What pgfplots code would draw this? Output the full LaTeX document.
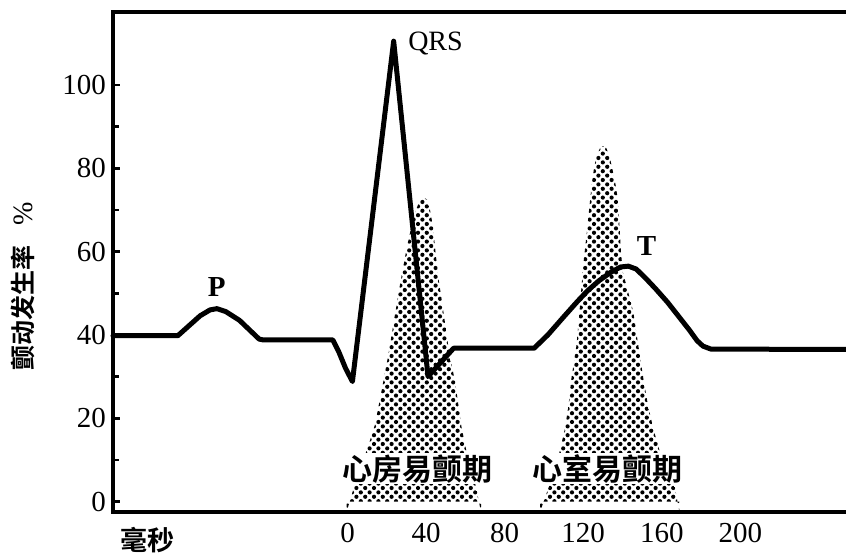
\documentclass[border=0pt]{standalone}
\usepackage{fontspec}
\setmainfont{Liberation Serif}
\newfontfamily\cjkb{Noto Sans CJK SC Bold}
\usepackage{pgfplots}
\pgfplotsset{compat=1.18}
\usetikzlibrary{patterns.meta}
\pgfplotstableread{
x y
-0.5 -2.5
3 3
7 9
10 12.5
14 18.5
17.5 27
20.7 35
23.5 43
26.7 52
30 60.5
32.5 66
34.5 69.5
36.5 72
38.6 73
40.5 72.5
42 70
43.5 66
45 59
46.5 53
49 45
52 35
54.7 29
58 18
61 11
64.5 5.5
68 -2.5
}\atrial
\pgfplotstableread{
x y
98 -2.5
101 1.5
104 5.5
107.5 11
110.7 17.5
112.5 23
114 29.6
116.6 37.6
118 45
119.2 52
120.3 58
121.7 64
123 70
124.3 76
125.5 80
127 83.3
128.8 85
130.2 85.3
131.8 84.8
133.3 83
134.8 80
136.5 76
137.8 72
138.5 66
139.2 60
140.2 55
142.5 51
145.5 45.5
148 37.6
150.6 29.6
153 23
155.7 17.5
159 12
162.5 8.5
166 5
169 -2.5
}\ventricular
\begin{document}
\begin{tikzpicture}
\begin{axis}[
  scale only axis, width=366.5pt, height=250pt,
  xmin=-119.4, xmax=253.8, ymin=-2.5, ymax=117.5,
  axis x line=bottom, axis y line=left,
  axis line style={-, line width=2pt, line cap=rect},
  xtick={0,40,80,120,160,200},
  ytick={0,20,40,60,80,100},
  minor ytick={10,30,50,70,90},
  tick align=inside,
  major tick length=3.5pt, minor tick length=3pt,
  x tick style={draw=none},
  y tick style={line width=1.4pt, black},
  tick label style={font=\fontsize{14.5}{17}\selectfont},
  /pgf/number format/assume math mode=true,
  xticklabel style={yshift=-2pt},
  clip=false,
]
\coordinate (bl) at (rel axis cs:0,0);
\coordinate (tr) at (rel axis cs:1,1);
\draw[line width=2pt, line cap=rect] (rel axis cs:0,1) -- (rel axis cs:1,1);

% atrial vulnerable period
\addplot[draw=none, pattern={Dots[radius=1.05pt,distance=4.4pt]}] table {\atrial} \closedcycle;
\addplot[draw=none, pattern={Dots[radius=1.05pt,distance=4.4pt,xshift=2.2pt,yshift=2.2pt]}] table {\atrial} \closedcycle;
% ventricular vulnerable period
\addplot[draw=none, pattern={Dots[radius=1.05pt,distance=4.4pt]}] table {\ventricular} \closedcycle;
\addplot[draw=none, pattern={Dots[radius=1.05pt,distance=4.4pt,xshift=2.2pt,yshift=2.2pt]}] table {\ventricular} \closedcycle;

% ECG curve
\addplot[black, line width=2.5pt, line join=round, line cap=round, mark=none] coordinates {
(-119.4,39.8) (-86.4,39.8) (-80,42.5) (-75,44.6) (-70,46) (-66.5,46.3) (-62,45.6)
(-55,43.5) (-49,40.8) (-45,39) (-43,38.8) (-7.5,38.8) (-4.5,36) (-1,32) (2.5,28.8)
(23.5,110.5) (41,30) (54,36.8) (95,36.8) (102,40) (110,44.3) (117,48) (122,50.5)
(128,53) (134,55) (139,56.3) (143,56.5) (147,55.8) (152,53.5) (157,51) (163,47.8)
(169,44.2) (174,41.2) (178,38.6) (181,37.3) (185,36.6) (253.8,36.5)
};

\node[font=\bfseries\fontsize{14.5}{17}\selectfont] at (axis cs:-66.6,51.6) {P};
\node[font=\fontsize{14}{16}\selectfont] at (axis cs:44.8,110) {QRS};
\node[font=\bfseries\fontsize{14.5}{17}\selectfont] at (axis cs:152.3,61.3) {T};
\node[fill=white, inner sep=0.6pt, font=\cjkb\fontsize{15}{17}\selectfont] at (axis cs:35.8,7.9) {心房易颤期};
\node[fill=white, inner sep=0.6pt, font=\cjkb\fontsize{15}{17}\selectfont] at (axis cs:132.6,7.9) {心室易颤期};
\node[font=\cjkb\fontsize{13.5}{15}\selectfont] at (axis cs:-102,-9.3) {毫秒};
\node[rotate=90, font=\cjkb\fontsize{12.5}{14}\selectfont] at (axis cs:-165.3,51.7) {颤动发生率\hspace{10pt}{\rmfamily\fontsize{14}{16}\selectfont\%}};
\end{axis}
\pgfresetboundingbox
\path[use as bounding box] ([shift={(-56.5pt,-21pt)}]bl) rectangle ([shift={(0pt,6pt)}]tr);
\end{tikzpicture}
\end{document}
